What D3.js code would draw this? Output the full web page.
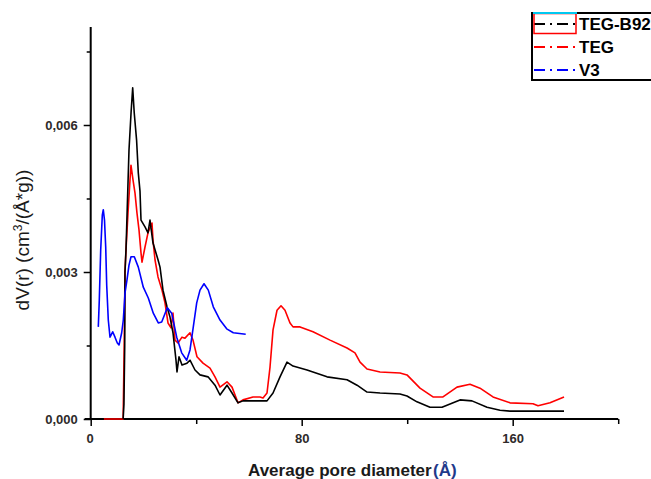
<!DOCTYPE html>
<html>
<head>
<meta charset="utf-8">
<script src="https://cdn.jsdelivr.net/npm/d3@7"></script>
<style>
  html, body { margin: 0; padding: 0; background: #fff; }
  svg { display: block; }
</style>
</head>
<body>
<div id="chart"></div>
<script>
(function () {
  "use strict";

  const WIDTH = 651;
  const HEIGHT = 479;

  /* ---- data: [diameter (Å), dV(r)] ---- */
  const tegB92 = [
    [12.3, 0], [12.6, 0.0003], [12.9, 0.0015], [13.0, 0.0030], [13.38, 0.00345],
    [14.52, 0.00549], [15.3, 0.00625], [15.92, 0.00676], [16.5, 0.00625], [17.4, 0.00569],
    [18.05, 0.00502], [18.69, 0.00465], [19.07, 0.00406], [20.59, 0.00392], [21.72, 0.0038],
    [22.48, 0.00406], [23.62, 0.00359], [25.52, 0.00325], [26.28, 0.0031], [27.41, 0.00263],
    [28.93, 0.00229], [30.07, 0.00208], [31.2, 0.00176], [32.34, 0.0012], [32.72, 0.00096],
    [33.48, 0.00127], [34.62, 0.0011], [36.51, 0.00114], [37.65, 0.0012], [39.55, 0.001],
    [41.44, 0.0009], [44.48, 0.00086], [47.13, 0.00069], [49.03, 0.00049], [51.68, 0.00069],
    [53.58, 0.00053], [55.85, 0.00033], [57.74, 0.00037], [59.26, 0.00037], [66.85, 0.00037],
    [69.13, 0.00053], [71.78, 0.00086], [74.43, 0.00116], [76.71, 0.00108], [82.02, 0.001],
    [89.6, 0.00086], [97.19, 0.0008], [100.98, 0.00069], [104.77, 0.00055], [109.7, 0.00053],
    [117.27, 0.00051], [119.92, 0.00047], [123.7, 0.00035], [128.64, 0.00024], [133.19, 0.00024],
    [140.02, 0.00039], [144.56, 0.00037], [150.26, 0.00024], [155.19, 0.00018], [158.98, 0.00016],
    [179.46, 0.00016]
  ];

  const teg = [
    [5.0, 0], [12.3, 0], [12.7, 0.0015], [13.0, 0.003], [13.38, 0.00345],
    [14.14, 0.0042], [14.9, 0.00488], [15.27, 0.00518], [16.04, 0.00488], [16.8, 0.00461],
    [17.55, 0.0042], [18.31, 0.00386], [19.07, 0.00339], [19.45, 0.0032], [20.59, 0.00351],
    [21.72, 0.0038], [23.24, 0.004], [23.62, 0.00365], [24.38, 0.00325], [25.52, 0.0029],
    [27.03, 0.00263], [28.17, 0.00237], [29.31, 0.00196], [30.45, 0.00186], [31.2, 0.00216],
    [31.96, 0.00161], [33.1, 0.00155], [34.62, 0.00167], [35.75, 0.00165], [37.65, 0.00176],
    [38.79, 0.00161], [40.3, 0.00127], [42.58, 0.00114], [45.23, 0.00104], [47.13, 0.00086],
    [49.03, 0.00065], [51.68, 0.00076], [53.58, 0.00065], [55.85, 0.00033], [57.74, 0.00039],
    [61.54, 0.00045], [64.19, 0.00045], [65.33, 0.00043], [66.85, 0.00053], [67.99, 0.00106],
    [69.13, 0.00182], [70.64, 0.00222], [72.16, 0.00231], [73.67, 0.00222], [75.57, 0.00196],
    [76.71, 0.00188], [79.37, 0.00188], [84.29, 0.00178], [90.74, 0.00161], [97.19, 0.00145],
    [100.2, 0.00135], [102.12, 0.00116], [104.77, 0.00102], [109.7, 0.00096], [117.27, 0.00094],
    [119.92, 0.0009], [124.85, 0.00063], [129.78, 0.00045], [133.57, 0.00045], [138.88, 0.00065],
    [143.8, 0.00071], [147.6, 0.00063], [152.53, 0.00045], [158.98, 0.00033], [167.7, 0.00031],
    [169.6, 0.00027], [174.15, 0.00033], [179.46, 0.00045]
  ];

  const v3 = [
    [2.88, 0.00188], [3.26, 0.00243], [3.79, 0.00345], [4.4, 0.00416], [4.78, 0.00427],
    [5.23, 0.00406], [5.69, 0.00351], [6.07, 0.00273], [6.67, 0.00202], [7.32, 0.00167],
    [8.34, 0.00178], [9.21, 0.00167], [10.09, 0.00155], [10.73, 0.00151], [11.75, 0.00176],
    [12.36, 0.00202], [13.0, 0.00257], [13.76, 0.00284], [14.52, 0.00314], [15.28, 0.00331],
    [16.53, 0.00331], [18.05, 0.0031], [19.94, 0.00269], [21.84, 0.00247], [23.73, 0.00216],
    [25.63, 0.00196], [26.92, 0.00198], [29.04, 0.00227], [30.71, 0.00216], [32.61, 0.00167],
    [34.5, 0.00135], [36.4, 0.0012], [37.65, 0.00141], [38.9, 0.00188], [40.19, 0.00237],
    [41.44, 0.00263], [42.96, 0.00276], [44.59, 0.00263], [46.48, 0.00229], [49.03, 0.00202],
    [51.56, 0.00184], [54.07, 0.00176], [58.77, 0.00173]
  ];

  const seriesNames = ["TEG-B92", "TEG", "V3"];
  const seriesColors = ["#000000", "#ff0000", "#0000ff"];
  const xTicks = [0, 80, 160];
  const xMinorTicks = [40, 120, 200];
  const yTicks = [0, 0.003, 0.006];
  const yMinorTicks = [0.0015, 0.0045, 0.0075];

  const svg = d3.select("#chart").append("svg")
    .attr("width", WIDTH)
    .attr("height", HEIGHT);

  svg.append("rect").attr("width", WIDTH).attr("height", HEIGHT).attr("fill", "#fff");

  const x = d3.scaleLinear().domain([0, 200]).range([90.7, 618.2]);
  const y = d3.scaleLinear().domain([0, 0.008]).range([419, 27]);

  const fmt = function (d) { return d3.format(".3f")(d).replace(".", ","); };
  const labelColor = "#2e2a2a";

  /* ---- axes ---- */
  const gx = svg.append("g").attr("transform", "translate(0," + y(0) + ")");
  gx.call(d3.axisBottom(x).tickValues(xTicks).tickSize(7).tickPadding(8).tickFormat(d3.format("d")));
  gx.append("g").call(d3.axisBottom(x).tickValues(xMinorTicks).tickSize(5).tickFormat(""));
  gx.selectAll(".domain").remove();
  gx.append("line").attr("x1", x(0) - 6).attr("x2", x(200)).attr("stroke", "#000").attr("stroke-width", 2);

  const gy = svg.append("g").attr("transform", "translate(" + x(0) + ",0)");
  gy.call(d3.axisLeft(y).tickValues(yTicks).tickSize(7).tickPadding(6).tickFormat(fmt));
  gy.append("g").call(d3.axisLeft(y).tickValues(yMinorTicks).tickSize(4).tickFormat(""));
  gy.selectAll(".domain").remove();
  gy.append("line").attr("y1", y(0)).attr("y2", y(0.008)).attr("stroke", "#000").attr("stroke-width", 2);

  svg.selectAll(".tick line").attr("stroke", "#000").attr("stroke-width", 1.5);
  svg.selectAll(".tick text")
    .attr("fill", labelColor)
    .style("font-family", "'Liberation Sans', Arial, sans-serif")
    .style("font-size", "13px")
    .style("font-weight", "bold");
  gx.selectAll(".tick text").filter(function (d) { return d === 0; }).attr("dx", -1);

  /* ---- axis titles ---- */
  const yTitle = svg.append("text")
    .attr("transform", "translate(29,240) rotate(-90)")
    .attr("text-anchor", "middle")
    .attr("fill", "#1a1a1a")
    .style("font-family", "'Liberation Sans', Arial, sans-serif")
    .style("font-size", "19px");
  yTitle.append("tspan").text("dV(r) (cm");
  yTitle.append("tspan").attr("dy", -7).style("font-size", "12px").text("3");
  yTitle.append("tspan").attr("dy", 7).text("/(Å*g))");

  const xTitleStyle = function (sel) {
    sel.attr("y", 476)
      .style("font-family", "'Liberation Sans', Arial, sans-serif")
      .style("font-size", "17px")
      .style("font-weight", "bold");
  };
  svg.append("text").call(xTitleStyle)
    .attr("x", 248)
    .attr("fill", "#1a1a1a")
    .text("Average pore diameter");
  svg.append("text").call(xTitleStyle)
    .attr("x", 433)
    .attr("fill", "#1f3a8a")
    .text("(Å)");

  /* ---- curves ---- */
  const line = d3.line()
    .x(function (d) { return x(d[0]); })
    .y(function (d) { return y(d[1]); });

  const drawOrder = [
    { data: teg, color: seriesColors[1] },
    { data: tegB92, color: seriesColors[0] },
    { data: v3, color: seriesColors[2] }
  ];
  drawOrder.forEach(function (s) {
    svg.append("path")
      .datum(s.data)
      .attr("d", line)
      .attr("fill", "none")
      .attr("stroke", s.color)
      .attr("stroke-width", 1.6)
      .attr("stroke-linejoin", "round");
  });

  /* ---- legend ---- */
  const legend = svg.append("g");
  legend.append("rect")
    .attr("x", 532).attr("y", 13)
    .attr("width", 130).attr("height", 67)
    .attr("fill", "#fff")
    .attr("stroke", "#000")
    .attr("stroke-width", 2);
  const rowY = [24, 47, 70];
  seriesNames.forEach(function (name, i) {
    legend.append("line")
      .attr("x1", 534).attr("x2", 575)
      .attr("y1", rowY[i]).attr("y2", rowY[i])
      .attr("stroke", seriesColors[i])
      .attr("stroke-width", 1.8)
      .attr("stroke-dasharray", "11,5,2,5");
    legend.append("text")
      .attr("x", 579).attr("y", rowY[i] + 6)
      .attr("fill", "#000")
      .style("font-family", "'Liberation Sans', Arial, sans-serif")
      .style("font-size", "17px")
      .style("font-weight", "bold")
      .text(name);
  });
  /* selection marks around the first legend sample */
  legend.append("rect")
    .attr("x", 534).attr("y", 13.5)
    .attr("width", 42).attr("height", 20)
    .attr("fill", "none")
    .attr("stroke", "#ff0000")
    .attr("stroke-width", 1.5);
  legend.append("line")
    .attr("x1", 533).attr("x2", 577)
    .attr("y1", 13).attr("y2", 13)
    .attr("stroke", "#00c8f0")
    .attr("stroke-width", 2);
})();
</script>
</body>
</html>
